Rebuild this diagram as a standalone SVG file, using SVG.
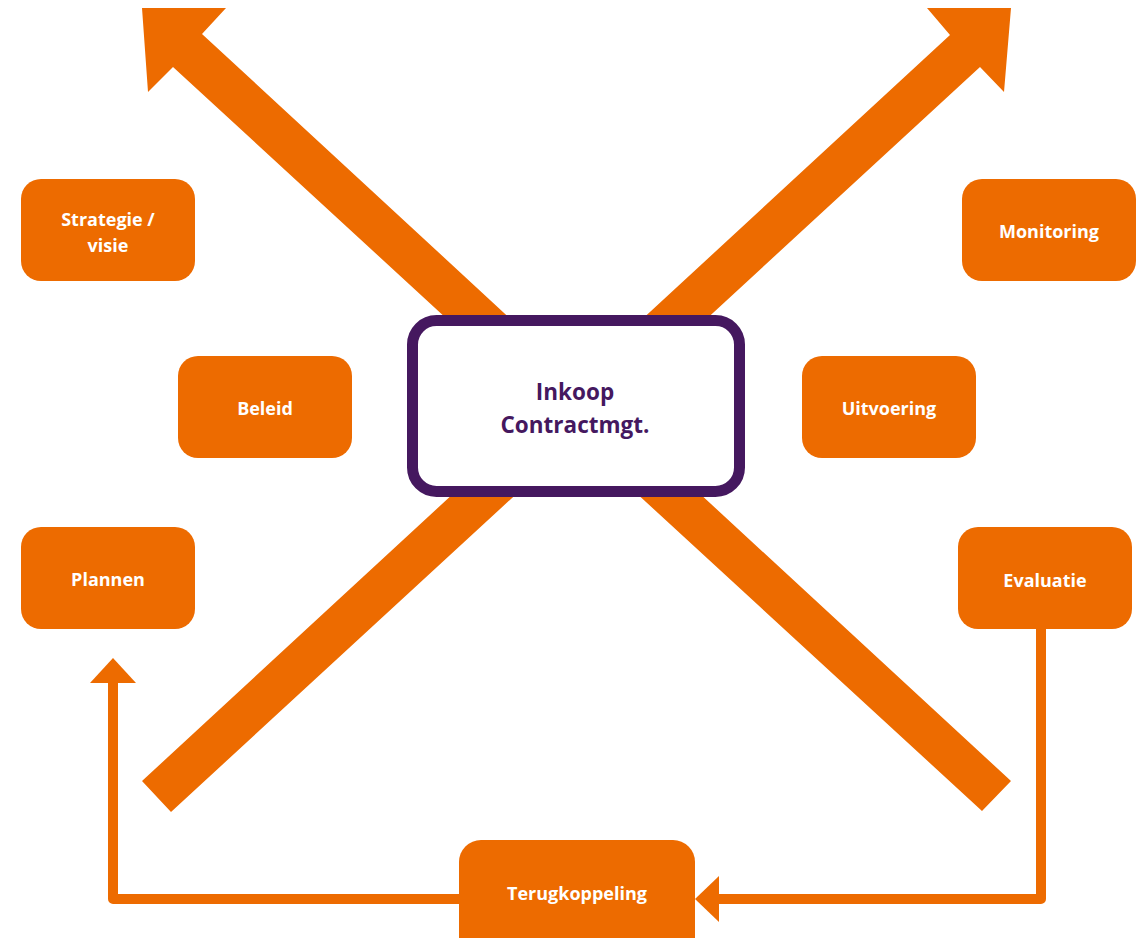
<svg xmlns="http://www.w3.org/2000/svg" width="1140" height="938" viewBox="0 0 1140 938">
<style>
.arrow{fill:#ED6B00}
.box{fill:#ED6B00}
.lbl{font-family:"Open Sans","Noto Sans",sans-serif;font-weight:700;font-size:18px;fill:#ffffff;text-anchor:middle}
.center-lbl{font-family:"Open Sans","Noto Sans",sans-serif;font-weight:700;font-size:22.5px;fill:#45185F;text-anchor:middle}
.conn{fill:none;stroke:#ED6B00;stroke-width:10;stroke-linejoin:round}
</style>
<rect width="1140" height="938" fill="#ffffff"/>
<g id="connectors">
<polygon class="arrow" points="142,781 950,35 927,8 1011,8 1004,92 980,67 171,812"/>
<polygon class="arrow" points="1011,781 202,34 226,8 142,8 148,92 173,67 982,811"/>
<path class="conn" d="M1041,628 V899 H712"/>
<polygon class="arrow" points="695,899 719,876 719,922"/>
<path class="conn" d="M460,899 H113 V676"/>
<polygon class="arrow" points="113,658 90,683 136,683"/>
</g>
<g id="node-strategie">
<rect class="box" x="21" y="179" width="174" height="102" rx="20"/>
<text class="lbl" x="108" y="226">Strategie /</text>
<text class="lbl" x="108" y="252">visie</text>
</g>
<g id="node-monitoring">
<rect class="box" x="962" y="179" width="174" height="102" rx="20"/>
<text class="lbl" x="1049" y="238">Monitoring</text>
</g>
<g id="node-beleid">
<rect class="box" x="178" y="356" width="174" height="102" rx="20"/>
<text class="lbl" x="265" y="415">Beleid</text>
</g>
<g id="node-uitvoering">
<rect class="box" x="802" y="356" width="174" height="102" rx="20"/>
<text class="lbl" x="889" y="415">Uitvoering</text>
</g>
<g id="node-plannen">
<rect class="box" x="21" y="527" width="174" height="102" rx="20"/>
<text class="lbl" x="108" y="586">Plannen</text>
</g>
<g id="node-evaluatie">
<rect class="box" x="958" y="527" width="174" height="102" rx="20"/>
<text class="lbl" x="1045" y="587">Evaluatie</text>
</g>
<g id="node-terugkoppeling">
<rect class="box" x="459" y="840" width="236" height="120" rx="22"/>
<text class="lbl" x="577" y="900">Terugkoppeling</text>
</g>
<g id="node-center">
<rect x="412.5" y="320.5" width="327" height="171" rx="24" fill="#ffffff" stroke="#45185F" stroke-width="11"/>
<text class="center-lbl" x="575" y="400">Inkoop</text>
<text class="center-lbl" x="575" y="433">Contractmgt.</text>
</g>
</svg>
